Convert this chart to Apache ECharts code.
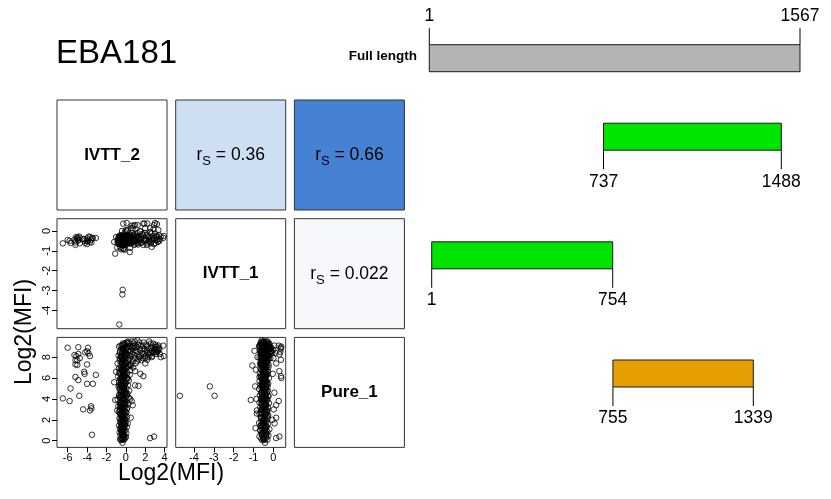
<!DOCTYPE html>
<html>
<head>
<meta charset="utf-8">
<script src="https://cdn.jsdelivr.net/npm/echarts@6/dist/echarts.min.js"></script>
<style>
  html, body { margin: 0; padding: 0; background: #fff; }
  #chart { width: 831px; height: 499px; }
</style>
</head>
<body>
<div id="chart"></div>
<script>
// ---- measures shown in the pairs matrix ----
const measures = ['IVTT_2', 'IVTT_1', 'Pure_1'];
const measureLimits = [[-7.1, 4.24], [-4.92, 0.62], [-0.64, 9.89]];
const measureTicks = [[-6, -4, -2, 0, 2, 4], [-4, -3, -2, -1, 0], [0, 2, 4, 6, 8]];

// Spearman correlations for the upper cells (row, column, r)
const spearmanRow = [0, 0, 1];
const spearmanCol = [1, 2, 2];
const spearmanR = [0.36, 0.66, 0.022];
const spearmanFill = ['#CFDFF3', '#4682D3', '#F6F8FC'];

// Samples as [IVTT_2, IVTT_1, Pure_1] in log2(MFI)
const columnGroup = [
  [-0.35,-0.42,-0.2],[-0.5,-0.55,0.05],[-0.2,-0.3,0.1],[-0.6,-0.48,0.15],[-0.1,-0.62,0.2],
  [-0.45,-0.35,0.3],[0.0,-0.5,0.35],[-0.3,-0.7,0.4],[-0.55,-0.25,0.5],[-0.15,-0.45,0.55],
  [-0.4,-0.58,0.65],[0.05,-0.38,0.7],[-0.65,-0.52,0.8],[-0.25,-0.3,0.85],[-0.48,-0.66,0.95],
  [-0.05,-0.44,1.0],[-0.35,-0.2,1.1],[-0.6,-0.5,1.15],[-0.2,-0.6,1.25],[0.1,-0.36,1.3],
  [-0.42,-0.48,1.4],[-0.7,-0.4,1.45],[-0.12,-0.56,1.55],[-0.5,-0.28,1.6],[-0.3,-0.72,1.7],
  [0.0,-0.46,1.75],[-0.58,-0.6,1.85],[-0.22,-0.34,1.9],[-0.4,-0.52,2.0],[-0.08,-0.4,2.1],
  [-0.66,-0.3,2.15],[-0.32,-0.64,2.25],[0.12,-0.5,2.3],[-0.48,-0.42,2.4],[-0.18,-0.26,2.45],
  [-0.55,-0.56,2.55],[-0.28,-0.7,2.6],[0.05,-0.38,2.7],[-0.72,-0.48,2.75],[-0.4,-0.32,2.85],
  [-0.1,-0.6,2.9],[-0.6,-0.44,3.0],[-0.25,-0.54,3.05],[0.15,-0.28,3.15],[-0.45,-0.66,3.2],
  [-0.78,-0.4,3.3],[-0.05,-0.48,3.35],[-0.35,-0.36,3.45],[0.25,-0.58,3.5],[-0.62,-0.22,3.6],
  [-0.15,-0.7,3.65],[-0.5,-0.5,3.75],[0.08,-0.42,3.8],[-0.3,-0.3,3.9],[-0.85,-0.62,3.95],
  [-0.2,-0.46,4.05],[0.3,-0.36,4.1],[-0.55,-0.56,4.2],[-0.02,-0.24,4.25],[-0.4,-0.68,4.35],
  [-0.7,-0.44,4.4],[0.18,-0.52,4.5],[-0.28,-0.34,4.55],[-0.48,-0.6,4.65],[-0.1,-0.42,4.7],
  [0.35,-0.28,4.8],[-0.62,-0.5,4.85],[-0.22,-0.72,4.95],[0.05,-0.38,5.0],[-0.38,-0.46,5.1],
  [-0.75,-0.3,5.15],[-0.15,-0.58,5.25],[0.22,-0.44,5.3],[-0.52,-0.64,5.4],[-0.3,-0.26,5.45],
  [0.0,-0.52,5.55],[-0.68,-0.4,5.6],[-0.42,-0.7,5.7],[0.3,-0.34,5.75],[-0.18,-0.48,5.85],
  [-0.58,-0.56,5.9],[0.1,-0.22,6.0],[-0.35,-0.62,6.05],[-0.8,-0.46,6.15],[-0.05,-0.36,6.2],
  [0.4,-0.54,6.3],[-0.48,-0.3,6.35],[-0.25,-0.68,6.45],[0.15,-0.44,6.5],[-0.62,-0.52,6.6],
  [-0.12,-0.28,6.65],[0.45,-0.6,6.75],[-0.4,-0.4,6.8],[-0.72,-0.66,6.9],[0.02,-0.5,6.95],
  [-0.3,-0.34,7.05],[0.3,-0.46,7.1],[-0.55,-0.58,7.2],[-0.2,-0.24,7.25],[0.5,-0.4,7.35],
  [-0.85,-0.5,7.4],[-0.08,-0.64,7.5],[-0.45,-0.36,7.55],[0.2,-0.52,7.65],[-0.65,-0.3,7.7],
  [-0.28,-0.6,7.8],[0.38,-0.42,7.85],[-0.02,-0.7,7.95],[-0.5,-0.46,8.0],[0.55,-0.28,8.1],
  [-0.75,-0.56,8.15],[-0.18,-0.38,8.25],[0.12,-0.62,8.3],[-0.38,-0.5,8.4],[0.42,-0.34,8.45],
  [-0.6,-0.66,8.55],[-0.1,-0.44,8.6],[0.25,-0.24,8.7],[-0.48,-0.58,8.75],[-0.25,-0.4,8.85],
  [0.05,-0.52,8.9],[-0.7,-0.32,9.0],[0.35,-0.6,9.05],[-0.32,-0.46,9.15],[-0.05,-0.3,9.2],
  [-0.3,-0.55,0.6],[-0.45,-0.4,1.2],[-0.15,-0.5,1.8],[-0.38,-0.62,2.2],[-0.25,-0.45,2.8],
  [-0.5,-0.35,3.4],[-0.1,-0.55,3.9],[-0.35,-0.42,4.45],[-0.6,-0.52,5.0],[-0.05,-0.32,5.5],
  [-0.4,-0.58,6.1],[-0.2,-0.4,6.55],[0.1,-0.5,7.0],[-0.35,-0.3,7.45],[-0.6,-0.44,7.9],
  [0.0,-0.56,8.35],[-0.3,-0.36,8.8],[0.2,-0.42,9.3],[-0.45,-0.5,0.9],[-0.25,-0.62,1.5],
  [-0.55,-0.46,2.05],[-0.1,-0.38,2.5],[-0.42,-0.5,3.1],[-0.2,-0.6,3.6],[-0.65,-0.4,4.15],
  [0.0,-0.48,4.6],[-0.3,-0.54,5.2],[-0.5,-0.38,5.75],[-0.15,-0.64,6.25],[-0.4,-0.48,6.7],
  [0.25,-0.38,7.15],[-0.2,-0.52,7.6],[-0.5,-0.6,8.05],[-0.1,-0.44,8.5],[-0.4,-0.34,9.05],
  [0.05,-0.62,9.4],[-0.28,-0.48,0.3],[-0.4,-0.66,1.0],[-0.2,-0.4,1.65],[-0.35,-0.3,2.35],
  [-0.6,-0.58,2.95],[-0.05,-0.44,3.55],[-0.3,-0.5,4.0],[-0.45,-0.3,4.75],[-0.12,-0.56,5.35],
  [-0.55,-0.46,5.95],[-0.25,-0.36,6.4],[-0.45,-0.54,6.85],[-0.1,-0.6,7.3],[-0.35,-0.44,7.75],
  [0.1,-0.34,8.2],[-0.22,-0.56,8.65],[-0.55,-0.4,9.1],
  [-0.32,-0.5,0.15],[-0.15,-0.38,0.45],[-0.42,-0.6,0.75],[-0.22,-0.42,1.05],[-0.52,-0.34,1.35],
  [-0.08,-0.52,1.6],[-0.36,-0.46,1.95],[-0.18,-0.58,2.2],[-0.48,-0.4,2.5],[-0.02,-0.32,2.75],
  [-0.3,-0.6,3.0],[-0.55,-0.5,3.25],[-0.12,-0.4,3.5],[-0.4,-0.56,3.7],[-0.22,-0.34,3.95],
  [-0.5,-0.44,4.3],[-0.06,-0.6,4.55],[-0.35,-0.38,4.9],[-0.2,-0.54,5.05],[-0.58,-0.36,5.3],
  [-0.1,-0.48,5.65],[-0.32,-0.56,5.8],[-0.45,-0.42,6.0],[0.05,-0.46,6.35],[-0.28,-0.52,6.6],
  [-0.52,-0.38,6.95],[-0.15,-0.54,7.1],[-0.38,-0.62,7.35],[0.05,-0.36,7.6],[-0.25,-0.5,7.9],
  [-0.45,-0.56,8.2],[-0.05,-0.42,8.45],[-0.3,-0.58,8.7],[0.15,-0.46,8.95],[-0.15,-0.5,9.3],
  [-0.4,-0.44,0.1],[-0.25,-0.56,0.5],[-0.35,-0.36,0.95],[-0.12,-0.64,1.45],[-0.45,-0.54,1.75],
  [-0.28,-0.44,2.1],[-0.5,-0.62,2.65],[-0.15,-0.48,3.2],[-0.38,-0.52,3.85],[-0.08,-0.58,4.4],
  [-0.28,-0.42,5.0],[-0.42,-0.52,5.5],[-0.2,-0.46,6.1],[-0.35,-0.5,6.75],[0.0,-0.58,7.45],
  [-0.42,-0.38,8.1],[-0.18,-0.5,8.55],[-0.32,-0.4,9.3],[-0.6,-0.46,3.45],[-0.68,-0.58,5.3],
  [0.2,-0.5,5.95],[0.12,-0.38,4.3],[-0.7,-0.36,6.45],[0.3,-0.56,7.75],[-0.62,-0.5,8.4]
];

const wedgeGroup = [
  [0.6,-0.3,8.9],[0.7,-0.55,7.6],[0.8,-0.2,9.3],[0.9,-0.45,8.2],[1.0,-0.65,7.4],
  [1.1,-0.35,9.0],[1.2,-0.1,8.5],[1.3,-0.5,7.8],[1.4,-0.28,9.4],[1.5,-0.6,8.1],
  [1.6,-0.42,7.7],[1.7,-0.15,8.8],[1.8,-0.7,9.1],[1.9,-0.38,8.3],[2.0,-0.52,7.9],
  [2.1,-0.22,9.2],[2.2,-0.62,8.6],[2.3,-0.32,8.0],[2.4,-0.48,9.5],[2.5,-0.05,8.4],
  [2.6,-0.58,8.9],[2.7,-0.4,8.1],[2.8,-0.26,9.3],[2.9,-0.66,8.5],[3.0,-0.12,8.8],
  [3.1,-0.46,8.3],[3.2,-0.3,9.0],[3.3,-0.55,8.6],[3.4,-0.2,8.9],[3.5,-0.4,8.3],
  [3.86,-0.35,9.1],[0.55,-0.6,7.2],[0.65,-0.4,8.3],[0.75,-0.25,7.0],[0.85,-0.7,9.0],
  [0.95,-0.15,7.9],[1.05,-0.5,8.6],[1.15,-0.3,7.6],[1.25,-0.68,9.2],[1.35,-0.4,8.0],
  [1.45,0.0,8.7],[1.55,-0.35,9.1],[1.65,-0.58,8.4],[1.75,-0.22,7.9],[1.85,-0.48,9.4],
  [1.95,-0.1,8.6],[2.05,-0.42,8.1],[2.15,-0.7,9.0],[2.25,-0.18,8.4],[2.35,-0.52,8.8],
  [2.45,-0.3,8.2],[2.55,-0.62,9.3],[2.65,-0.12,8.6],[2.75,-0.45,9.0],[2.85,0.1,8.4],
  [2.95,-0.36,8.7],[3.05,-0.6,9.2],[3.15,-0.24,8.5],[3.25,-0.44,8.8],[3.35,0.05,9.1],
  [3.45,-0.5,8.7],[3.6,-0.28,8.0],[0.3,-0.5,9.4],[0.45,-0.2,9.0],[0.5,-0.65,8.6],
  [0.2,-0.3,9.5],[0.4,-0.45,8.2],[0.6,-0.38,9.5],[0.7,-0.1,8.9],[0.9,-0.55,9.5],
  [1.0,-0.25,8.9],[1.2,-0.6,9.6]
];

const lowIvtt2Group = [
  [-6.0,-0.45,8.9],[-4.9,-0.32,8.95],[-3.9,-0.5,8.9],[-4.0,-0.38,8.55],[-4.2,-0.6,8.45],
  [-3.85,-0.28,8.35],[-3.7,-0.55,8.1],[-5.3,-0.42,8.2],[-5.1,-0.3,8.1],[-4.9,-0.48,8.3],
  [-4.75,-0.62,7.9],[-5.2,-0.58,7.7],[-5.0,-0.35,7.7],[-5.2,-0.5,7.3],[-5.0,-0.4,7.25],
  [-4.0,-0.66,7.3],[-4.3,-0.42,6.6],[-4.25,-0.5,6.4],[-3.1,-0.35,6.3],[-5.2,-0.7,6.1],
  [-4.9,-0.45,5.8],[-4.0,-0.52,5.45],[-3.4,-0.36,5.45],[-5.7,-0.6,5.0],[-4.8,-0.28,4.3],
  [-6.5,-0.62,4.05],[-5.8,-0.5,3.8],[-3.6,-0.44,3.3],[-3.55,-0.58,3.1],[-3.7,-0.3,2.9],
  [-4.4,-0.4,3.0],[-3.5,-0.35,0.57]
];

const outlierGroup = [
  [0.95,0.3,6.66],[1.5,-0.03,6.4],[1.8,0.38,6.18],[0.95,-0.5,5.3],[1.3,-0.4,5.25],
  [0.45,-0.85,4.0],[0.6,0.27,3.8],[0.7,0.14,3.4],[-1.1,-1.14,3.9],[0.5,0.14,2.2],
  [0.2,0.06,1.65],[2.5,0.14,0.25],[2.9,0.3,0.4],[-0.9,-0.83,2.9],[-0.6,-0.83,2.6],
  [0.4,-1.06,7.2],[0.8,0.27,9.1],[1.2,0.3,8.26],[2.2,0.38,7.75],[2.0,0.14,7.4],
  [-0.68,-4.71,4.3],[-0.33,-2.96,4.3],[-0.36,-3.2,5.2],
  [-0.27,0.37,8.9],[0.08,0.4,6.0],[1.9,0.37,8.8],[3.0,0.4,9.0],[3.2,0.35,8.5],
  [2.66,-0.8,8.0],[-1.2,-0.55,5.6],[-1.0,-0.3,6.6],[3.9,-0.25,8.1],
  [-0.3,-0.9,1.2],[-0.1,-0.05,2.0],[-0.5,-0.92,5.2],[0.0,0.05,4.6],[-0.2,-0.88,6.8],
  [-0.4,0.0,7.9],[-0.15,-0.95,8.6],[0.1,0.02,3.0]
];

// ---- EBA181 constructs (amino-acid positions) ----
const fragmentStart = [1, 737, 1, 755];
const fragmentEnd = [1567, 1488, 754, 1339];
const fullLengthLabel = 'Full length';
const chartTitle = 'EBA181';
const axisTitle = 'Log2(MFI)';

// ---- layout & style ----
const FONT = '"Liberation Sans", Arial, Helvetica, sans-serif';
const L0 = 57, T0 = 100, CELL = 110, GAP = 8.7;
const cellX = c => L0 + c * (CELL + GAP);
const cellY = r => T0 + r * (CELL + GAP);
const fragmentFill = ['#B3B3B3', '#00E400', '#00E400', '#E69F00'];
const fragmentRowY = [58.2, 136.7, 255.3, 373.5];
const fragmentTickUp = [true, false, false, false];
const fragmentGrid = [0, 0, 1, 1];
const BAR_H = 27;

const samples = [].concat(columnGroup, wedgeGroup, lowIvtt2Group, outlierGroup);

const grids = [], xAxes = [], yAxes = [], series = [], graphics = [];

for (let r = 0; r < 3; r++) {
  for (let c = 0; c < 3; c++) {
    const gi = grids.length;
    const lower = r > c;
    let fill = '#fff';
    for (let k = 0; k < spearmanR.length; k++) {
      if (spearmanRow[k] === r && spearmanCol[k] === c) fill = spearmanFill[k];
    }
    grids.push({
      left: cellX(c), top: cellY(r), width: CELL, height: CELL,
      show: true, backgroundColor: fill, borderColor: '#333', borderWidth: 1,
      outerBoundsMode: 'none'
    });
    const showX = lower && r === 2;
    const showY = lower && c === 0;
    xAxes.push({
      gridIndex: gi, type: 'value', show: lower, position: 'bottom',
      min: lower ? measureLimits[c][0] : 0, max: lower ? measureLimits[c][1] : 1,
      axisLine: { show: false, onZero: false }, splitLine: { show: false },
      axisTick: { show: showX, length: 5, lineStyle: { color: '#000', width: 1 }, customValues: measureTicks[c] },
      axisLabel: { show: showX, customValues: measureTicks[c], fontSize: 11, color: '#000', margin: 5, fontFamily: FONT }
    });
    yAxes.push({
      gridIndex: gi, type: 'value', show: lower, position: 'left',
      min: lower ? measureLimits[r][0] : 0, max: lower ? measureLimits[r][1] : 1,
      axisLine: { show: false, onZero: false }, splitLine: { show: false },
      axisTick: { show: showY, length: 5, lineStyle: { color: '#000', width: 1 }, customValues: measureTicks[r] },
      axisLabel: { show: showY, customValues: measureTicks[r], rotate: 90, fontSize: 11, color: '#000', margin: 5, fontFamily: FONT }
    });
    const cx = cellX(c) + CELL / 2, cy = cellY(r) + CELL / 2;
    if (lower) {
      series.push({
        type: 'scatter', xAxisIndex: gi, yAxisIndex: gi,
        data: samples.map(s => [s[c], s[r]]),
        symbol: 'circle', symbolSize: 5.5,
        itemStyle: { color: 'rgba(0,0,0,0)', borderColor: '#000', borderWidth: 1 },
        silent: true, animation: false
      });
    } else if (r === c) {
      graphics.push({
        type: 'text', x: cx, y: cy, z: 10,
        style: { text: measures[r], fontFamily: FONT, fontWeight: 'bold', fontSize: 17, fill: '#000', align: 'center', verticalAlign: 'middle' }
      });
    } else {
      let val = '';
      for (let k = 0; k < spearmanR.length; k++) {
        if (spearmanRow[k] === r && spearmanCol[k] === c) val = String(spearmanR[k]);
      }
      graphics.push({
        type: 'text', x: cx, y: cy, z: 10,
        style: {
          text: '{r|r}{s|S}{v| = ' + val + '}',
          align: 'center', verticalAlign: 'middle',
          rich: {
            r: { fontFamily: FONT, fontSize: 17.5, fill: '#000', lineHeight: 26, verticalAlign: 'middle' },
            s: { fontFamily: FONT, fontSize: 13, fill: '#000', lineHeight: 26, verticalAlign: 'bottom' },
            v: { fontFamily: FONT, fontSize: 17.5, fill: '#000', lineHeight: 26, verticalAlign: 'middle' }
          }
        }
      });
    }
  }
}

// ---- construct diagram grids ----
const barGridA = grids.length;
grids.push({ left: 429.3, width: 370.7, top: 0, height: 499, show: false, outerBoundsMode: 'none' });
const barGridB = grids.length;
grids.push({ left: 431.7, width: 376.4, top: 0, height: 499, show: false, outerBoundsMode: 'none' });
[barGridA, barGridB].forEach(gi => {
  xAxes.push({ gridIndex: gi, type: 'value', min: 1, max: 1567, show: false });
  yAxes.push({ gridIndex: gi, type: 'value', min: 0, max: 1, show: false });
});

function renderFragment(params, api) {
  const i = api.value(2);
  const x0 = api.coord([api.value(0), 0])[0];
  const x1 = api.coord([api.value(1), 0])[0];
  const yc = fragmentRowY[i];
  const top = yc - BAR_H / 2, bottom = yc + BAR_H / 2;
  const up = fragmentTickUp[i];
  const t0 = up ? top : bottom;
  const t1 = up ? top - 16.5 : bottom + 19;
  const ly = up ? top - 29 : bottom + 31.5;
  const lineStyle = { stroke: '#000', lineWidth: 1 };
  const textStyle = (x, txt) => ({ type: 'text', x: x, y: ly, style: { text: txt, fontFamily: FONT, fontSize: 17.5, fill: '#000', align: 'center', verticalAlign: 'middle' } });
  return {
    type: 'group',
    children: [
      { type: 'rect', shape: { x: x0, y: top, width: x1 - x0, height: BAR_H }, style: { fill: fragmentFill[i], stroke: '#1a1a1a', lineWidth: 1 } },
      { type: 'line', shape: { x1: x0, y1: t0, x2: x0, y2: t1 }, style: lineStyle },
      { type: 'line', shape: { x1: x1, y1: t0, x2: x1, y2: t1 }, style: lineStyle },
      textStyle(x0, String(api.value(0))),
      textStyle(x1, String(api.value(1)))
    ]
  };
}

[barGridA, barGridB].forEach((gi, g) => {
  const data = [];
  for (let i = 0; i < fragmentStart.length; i++) {
    if (fragmentGrid[i] === g) data.push([fragmentStart[i], fragmentEnd[i], i]);
  }
  series.push({ type: 'custom', xAxisIndex: gi, yAxisIndex: gi, data: data, renderItem: renderFragment, silent: true, animation: false, clip: false });
});

// ---- titles ----
graphics.push(
  { type: 'text', x: 56, y: 54, style: { text: chartTitle, fontFamily: FONT, fontSize: 33, fill: '#000', align: 'left', verticalAlign: 'middle' } },
  { type: 'text', x: 171, y: 474, style: { text: axisTitle, fontFamily: FONT, fontSize: 23, fill: '#000', align: 'center', verticalAlign: 'middle' } },
  { type: 'text', x: 25, y: 332, rotation: Math.PI / 2, style: { text: axisTitle, fontFamily: FONT, fontSize: 23, fill: '#000', align: 'center', verticalAlign: 'middle' } },
  { type: 'text', x: 417, y: 56.5, style: { text: fullLengthLabel, fontFamily: FONT, fontWeight: 'bold', fontSize: 13.5, fill: '#000', align: 'right', verticalAlign: 'middle' } }
);

const chart = echarts.init(document.getElementById('chart'), null, { renderer: 'canvas' });
chart.setOption({
  backgroundColor: '#fff',
  animation: false,
  grid: grids,
  xAxis: xAxes,
  yAxis: yAxes,
  series: series,
  graphic: graphics
});
</script>
</body>
</html>
